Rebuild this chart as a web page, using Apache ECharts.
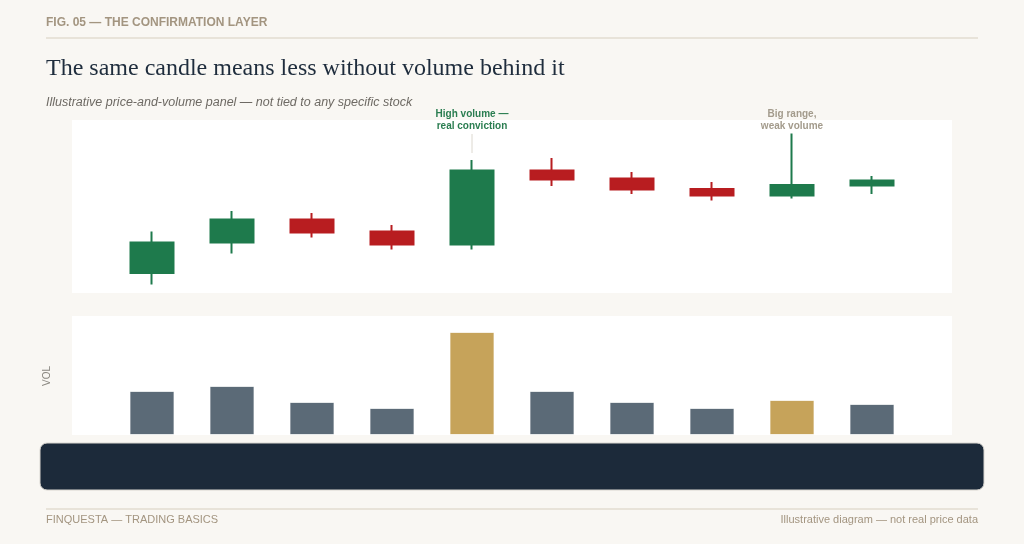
<!DOCTYPE html>
<html>
<head>
<meta charset="utf-8">
<script src="https://cdn.jsdelivr.net/npm/echarts@6/dist/echarts.min.js"></script>
<style>
  html, body { margin: 0; padding: 0; background: #f9f7f3; }
  #chart { width: 1024px; height: 544px; }
</style>
</head>
<body>
<div id="chart"></div>
<script>
  // sessions (unnamed on the picture)
  const days = ['D1', 'D2', 'D3', 'D4', 'D5', 'D6', 'D7', 'D8', 'D9', 'D10']
  // [open, close, low, high]
  const ohlc = [
    [94.0, 100.1, 91.7, 102.3],
    [100.1, 104.7, 97.9, 106.4],
    [104.7, 102.1, 101.1, 106.0],
    [102.3, 99.7, 98.7, 103.6],
    [99.7, 114.5, 98.7, 116.6],
    [114.5, 112.7, 111.4, 117.0],
    [112.9, 110.7, 109.8, 114.2],
    [110.8, 109.5, 108.5, 112.2],
    [109.5, 111.6, 108.9, 121.9],
    [111.5, 112.5, 109.8, 113.4]
  ]
  const volume = [44, 49, 33, 27, 103, 44, 33, 27, 35, 31]
  // bars that get the highlight colour
  const flagged = [4, 8]
  const notes = [
    {idx: 4, text: 'High volume —\nreal conviction', color: '#2a7d50', line: true},
    {idx: 8, text: 'Big range,\nweak volume', color: '#a39b8c', line: false}
  ]

  const GREEN = '#1e7a4c'
  const RED = '#b81d20'
  const SLATE = '#5b6a77'
  const GOLD = '#c6a35a'
  const MUTED = '#a39580'

  const chart = echarts.init(document.getElementById('chart'))

  const staticGraphic = [
    {type: 'rect', shape: {x: 72, y: 120, width: 880, height: 173}, style: {fill: '#fff'}, z: -10},
    {type: 'rect', shape: {x: 72, y: 316, width: 880, height: 119}, style: {fill: '#fff'}, z: -10},
    {type: 'rect', shape: {x: 40, y: 443, width: 944, height: 47, r: 7},
      style: {fill: '#1c2a3a', stroke: '#d9d6d0', lineWidth: 1}},
    {type: 'text', left: 46, top: 17, style: {text: 'FIG. 05 — THE CONFIRMATION LAYER', fill: MUTED,
      font: 'bold 12px "Liberation Sans", Arial, sans-serif'}},
    {type: 'line', shape: {x1: 46, y1: 38, x2: 978, y2: 38}, style: {stroke: '#e2dcd1', lineWidth: 1.5}},
    {type: 'text', left: 46, top: 57, style: {text: 'The same candle means less without volume behind it',
      fill: '#1f2d3d', font: '24px "Liberation Serif", "Times New Roman", serif'}},
    {type: 'text', left: 46, top: 96, style: {text: 'Illustrative price-and-volume panel — not tied to any specific stock',
      fill: '#6e6a64', font: 'italic 12.5px "Liberation Sans", Arial, sans-serif'}},
    {type: 'text', x: 47, y: 376, rotation: Math.PI / 2, style: {text: 'VOL', fill: '#8a8780',
      font: '10px "Liberation Sans", Arial, sans-serif', align: 'center', verticalAlign: 'middle'}},
    {type: 'line', shape: {x1: 46, y1: 509, x2: 978, y2: 509}, style: {stroke: '#e2dcd1', lineWidth: 1.5}},
    {type: 'text', left: 46, top: 514, style: {text: 'FINQUESTA — TRADING BASICS', fill: MUTED,
      font: '11px "Liberation Sans", Arial, sans-serif'}},
    {type: 'text', right: 46, top: 514, style: {text: 'Illustrative diagram — not real price data', fill: MUTED,
      font: '11px "Liberation Sans", Arial, sans-serif'}}
  ]

  chart.setOption({
    backgroundColor: '#f9f7f3',
    animation: false,
    grid: [
      {left: 112, right: 112, top: 118, height: 175},
      {left: 112, right: 112, top: 315, height: 120}
    ],
    xAxis: [
      {type: 'category', data: days, gridIndex: 0, show: false},
      {type: 'category', data: days, gridIndex: 1, show: false}
    ],
    yAxis: [
      {type: 'value', gridIndex: 0, min: 90, max: 125, show: false, splitLine: {show: false}},
      {type: 'value', gridIndex: 1, min: 0, max: 120, show: false, splitLine: {show: false}}
    ],
    series: [
      {
        type: 'candlestick',
        data: ohlc,
        xAxisIndex: 0,
        yAxisIndex: 0,
        barWidth: 43,
        itemStyle: {
          color: GREEN,
          color0: RED,
          borderColor: GREEN,
          borderColor0: RED,
          borderWidth: 2
        }
      },
      {
        type: 'bar',
        data: volume.map((v, i) => ({
          value: v,
          itemStyle: {color: flagged.includes(i) ? GOLD : SLATE}
        })),
        xAxisIndex: 1,
        yAxisIndex: 1,
        barWidth: 45,
        itemStyle: {borderColor: 'rgba(255,255,255,0.7)', borderWidth: 1}
      }
    ],
    graphic: staticGraphic
  })

  // annotations placed over their candles
  const noteGraphic = []
  notes.forEach(n => {
    const x = chart.convertToPixel({xAxisIndex: 0}, days[n.idx])
    noteGraphic.push({type: 'text', x: x, y: 108, style: {text: n.text, fill: n.color, align: 'center',
      font: 'bold 10px "Liberation Sans", Arial, sans-serif', lineHeight: 12}})
    if (n.line) {
      noteGraphic.push({type: 'line', shape: {x1: x, y1: 134, x2: x, y2: 153},
        style: {stroke: '#dcd8cf', lineWidth: 1}})
    }
  })
  chart.setOption({graphic: staticGraphic.concat(noteGraphic)})
</script>
</body>
</html>
